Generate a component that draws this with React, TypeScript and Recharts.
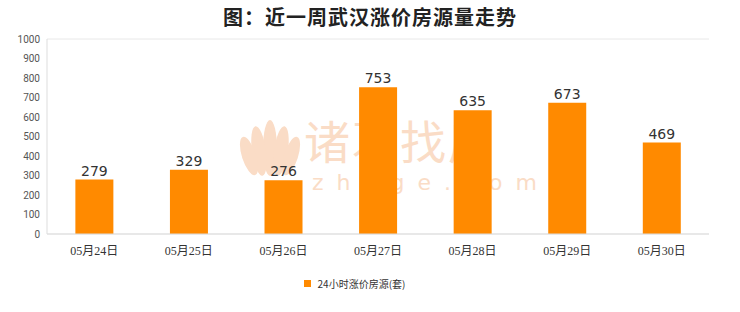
import { Bar, BarChart, CartesianGrid, LabelList, Legend, XAxis, YAxis } from "recharts";

const dias = ["05月24日", "05月25日", "05月26日", "05月27日", "05月28日", "05月29日", "05月30日"];
const valores = [279, 329, 276, 753, 635, 673, 469];
const ticksY = [0, 100, 200, 300, 400, 500, 600, 700, 800, 900, 1000];

const dados = dias.map((dia, i) => ({ dia, valor: valores[i] }));

const laranja = "#ff8a00";
const marca = "#fadcc6";

function LegendaCustom() {
  return (
    <div style={{ display: "flex", justifyContent: "center", alignItems: "center", paddingTop: 12, fontSize: 10, color: "#333", fontFamily: "'Noto Sans CJK SC', sans-serif" }}>
      <span style={{ width: 7, height: 7, background: laranja, marginRight: 7, display: "inline-block" }} />
      24小时涨价房源(套)
    </div>
  );
}

export default function App() {
  return (
    <div style={{ position: "absolute", left: 0, top: 0, width: 740, height: 312, background: "#fff" }}>
      {/* marca d'água fica atrás do gráfico */}
      <svg style={{ position: "absolute", left: 238, top: 118 }} width={64} height={66}>
        <g fill={marca}>
          <ellipse cx={32} cy={30} rx={7} ry={28} />
          <ellipse cx={21} cy={33} rx={7} ry={25} transform="rotate(-8 21 33)" />
          <ellipse cx={43} cy={33} rx={7} ry={25} transform="rotate(8 43 33)" />
          <ellipse cx={11} cy={38} rx={7} ry={20} transform="rotate(-18 11 38)" />
          <ellipse cx={53} cy={38} rx={7} ry={20} transform="rotate(18 53 38)" />
        </g>
      </svg>
      <div style={{ position: "absolute", left: 304, top: 116, lineHeight: 1, fontSize: 46, color: marca, fontFamily: "'Noto Sans CJK SC', sans-serif", letterSpacing: 2 }}>
        诸葛找房
      </div>
      <div style={{ position: "absolute", left: 312, top: 172, lineHeight: 1, fontSize: 22, color: marca, fontFamily: "'DejaVu Sans', sans-serif", letterSpacing: 13 }}>
        zhuge.com
      </div>
      <div style={{ position: "absolute", left: 0, top: 2, width: 740, textAlign: "center", fontSize: 20, fontWeight: 600, color: "#222", fontFamily: "'Noto Sans CJK SC', sans-serif", letterSpacing: 1 }}>
        图：近一周武汉涨价房源量走势
      </div>
      <div style={{ position: "absolute", left: 0, top: 0 }}>
        <BarChart width={740} height={312} data={dados} margin={{ top: 39, right: 31, left: 0, bottom: 10 }} barCategoryGap="30%">
          <CartesianGrid vertical={false} stroke="#e8e8e8" />
          <XAxis dataKey="dia" tickLine={false} axisLine={{ stroke: "#ddd" }} tick={{ fontSize: 12, fill: "#333", fontFamily: "'Liberation Serif', 'Noto Sans CJK SC', serif" }} tickMargin={6} height={30} />
          <YAxis yAxisId="l" domain={[0, 1000]} ticks={ticksY} width={47} tickLine={false} tickSize={0} tickMargin={7} axisLine={{ stroke: "#ddd" }} tick={{ fontSize: 10, fill: "#555", fontFamily: "Roboto, sans-serif" }} interval={0} />
          <YAxis yAxisId="r" orientation="right" width={0} domain={[0, 1000]} tick={false} tickLine={false} axisLine={{ stroke: "#ddd" }} />
          <Legend verticalAlign="bottom" height={38} content={<LegendaCustom />} />
          <Bar yAxisId="l" dataKey="valor" fill={laranja} isAnimationActive={false}>
            <LabelList dataKey="valor" position="top" offset={4} style={{ fontSize: 14, fill: "#333", fontFamily: "'DejaVu Sans', sans-serif" }} />
          </Bar>
        </BarChart>
      </div>
    </div>
  );
}
